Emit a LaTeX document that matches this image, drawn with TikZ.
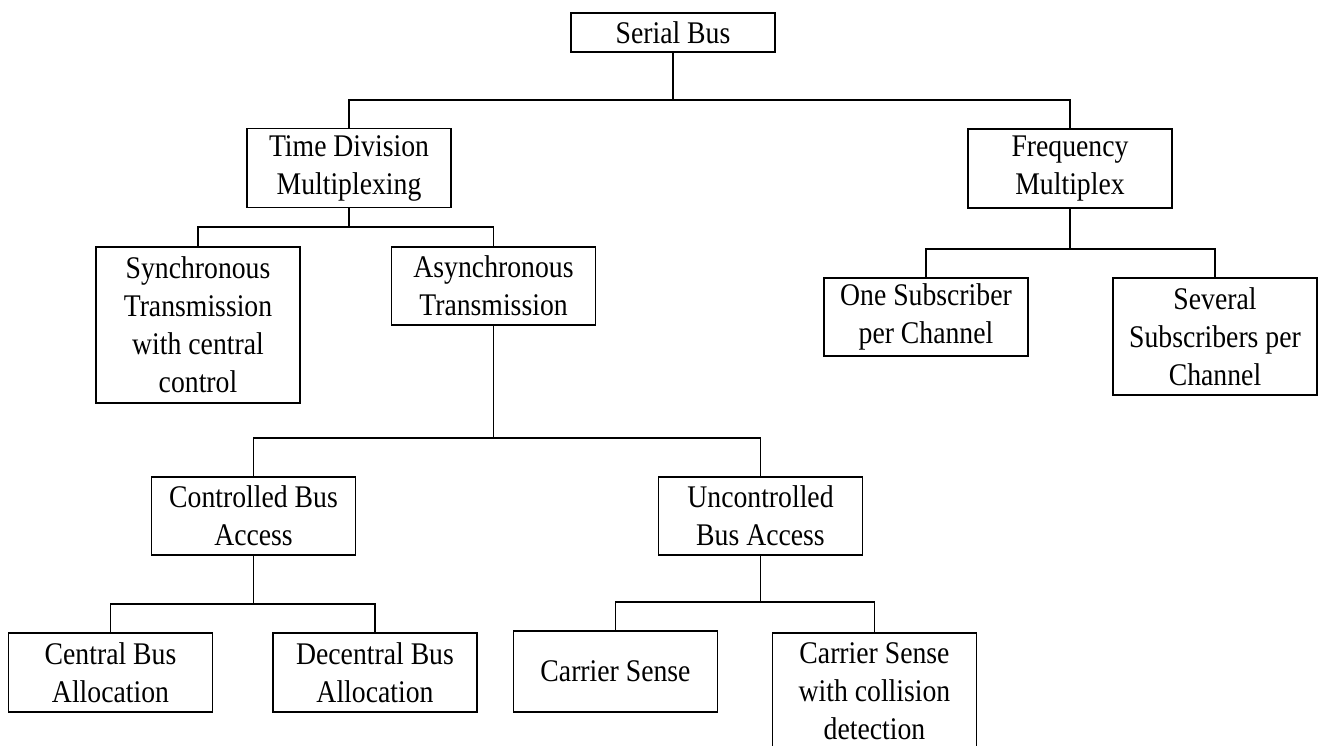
\documentclass[tikz,border=0pt]{standalone}
\usepackage{fontspec}
\setmainfont{Liberation Serif}[FakeStretch=0.88]
\begin{document}
\begin{tikzpicture}[x=1pt,y=-1pt,
  box/.style={draw, line width=1.1pt, rectangle, inner sep=0pt,
    minimum width=204pt, align=center,
    font=\fontsize{31.5}{38}\selectfont},
  link/.style={line width=1.1pt}]
\useasboundingbox (0,0) rectangle (1321,745);
\clip (0,0) rectangle (1321,745);

% boxes
\node[box, minimum height=39pt] (serial) at (673,32.5) {Serial Bus};
\node[box, minimum height=79pt] (tdm) at (349,168) {Time Division\\Multiplexing};
\node[box, minimum height=79pt] (freq) at (1070,168.5) {Frequency\\Multiplex};
\node[box, minimum height=156pt] (sync) at (198,325) {Synchronous\\Transmission\\with central\\control};
\node[box, minimum height=78pt] (async) at (493.5,286) {Asynchronous\\Transmission};
\node[box, minimum height=78pt] (onesub) at (926,317) {One Subscriber\\per Channel};
\node[box, minimum height=117pt] (several) at (1215,336.5) {Several\\Subscribers per\\Channel};
\node[box, minimum height=78pt] (ctrl) at (253.5,516) {Controlled Bus\\Access};
\node[box, minimum height=78pt] (unctrl) at (760.5,516) {Uncontrolled\\Bus Access};
\node[box, minimum height=79pt] (central) at (110.5,672.5) {Central Bus\\Allocation};
\node[box, minimum height=79pt] (decentral) at (375,672.5) {Decentral Bus\\Allocation};
\node[box, minimum height=81pt] (cs) at (615.5,671.5) {Carrier Sense};
\node[box, minimum height=117pt] (csc) at (874.5,691.5) {Carrier Sense\\with collision\\detection};

% branch points
\coordinate (j1) at (673,100);
\coordinate (j2) at (349,227);
\coordinate (j3) at (493.5,438);
\coordinate (j4) at (253.5,604);
\coordinate (j5) at (760.5,602);
\coordinate (j6) at (1070,249);

% connectors
\draw[link] (serial.south) -- (j1);
\draw[link] (j1) -| (tdm.north);
\draw[link] (j1) -| (freq.north);

\draw[link] (tdm.south) -- (j2);
\draw[link] (j2) -| (sync.north);
\draw[link] (j2) -| (async.north);

\draw[link] (async.south) -- (j3);
\draw[link] (j3) -| (ctrl.north);
\draw[link] (j3) -| (unctrl.north);

\draw[link] (ctrl.south) -- (j4);
\draw[link] (j4) -| (central.north);
\draw[link] (j4) -| (decentral.north);

\draw[link] (unctrl.south) -- (j5);
\draw[link] (j5) -| (cs.north);
\draw[link] (j5) -| (csc.north);

\draw[link] (freq.south) -- (j6);
\draw[link] (j6) -| (onesub.north);
\draw[link] (j6) -| (several.north);
\end{tikzpicture}
\end{document}
